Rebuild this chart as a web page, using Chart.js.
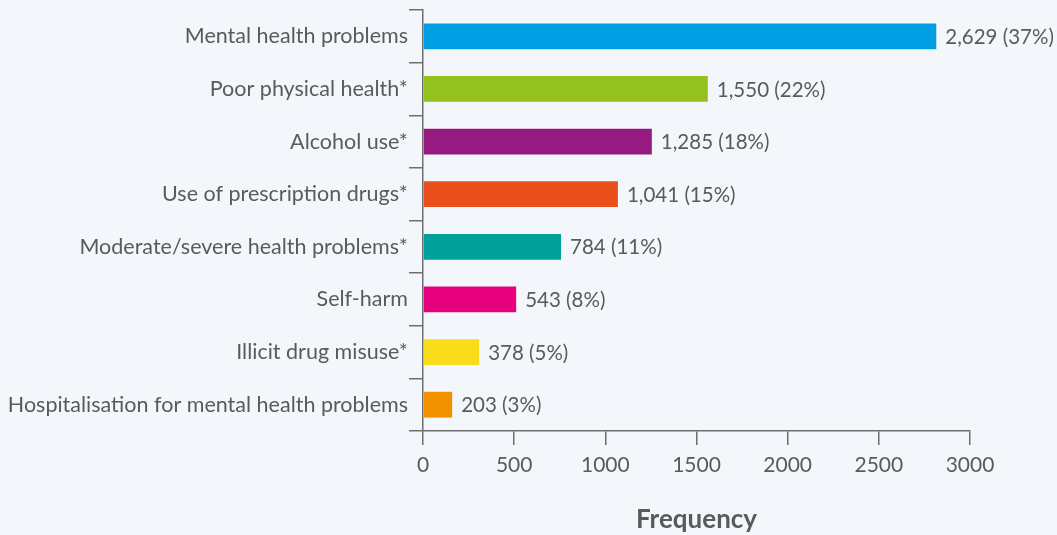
<!DOCTYPE html>
<html>
<head>
<meta charset="utf-8">
<script src="https://cdn.jsdelivr.net/npm/chart.js@4.4.1/dist/chart.umd.min.js"></script>
<style>
    html, body { margin: 0; padding: 0; background: #f3f7fb; }
    #wrap { width: 1057px; height: 535px; }
</style>
</head>
<body>
<div id="wrap"><canvas id="chart" width="1057" height="535"></canvas></div>
<script>
const categories = [
    'Mental health problems',
    'Poor physical health*',
    'Alcohol use*',
    'Use of prescription drugs*',
    'Moderate/severe health problems*',
    'Self-harm',
    'Illicit drug misuse*',
    'Hospitalisation for mental health problems'
];
// bar lengths as drawn in the picture
const barValues = [2815, 1562, 1255, 1069, 757, 511, 308, 160];
const valueLabels = ['2,629 (37%)', '1,550 (22%)', '1,285 (18%)', '1,041 (15%)', '784 (11%)', '543 (8%)', '378 (5%)', '203 (3%)'];
const barColors = ['#009fe3', '#95c11f', '#951b81', '#e94e1b', '#00a19a', '#e6007e', '#f9dc1a', '#f39200'];
const xTicks = [0, 500, 1000, 1500, 2000, 2500, 3000];

const textColor = '#5a5a5a';
const axisColor = '#6e6e6e';
const fontFamily = 'Lato, "Open Sans", sans-serif';

const valueLabelPlugin = {
    id: 'valueLabelPlugin',
    afterDatasetsDraw: function (chart) {
        const ctx = chart.ctx;
        const meta = chart.getDatasetMeta(0);
        ctx.save();
        ctx.font = '20.5px ' + fontFamily;
        ctx.fillStyle = textColor;
        ctx.textAlign = 'left';
        ctx.textBaseline = 'middle';
        meta.data.forEach((bar, i) => {
            ctx.fillText(valueLabels[i], bar.x + 9, bar.y + 1);
        });
        ctx.restore();
    }
};

const ctx = document.getElementById('chart').getContext('2d');
new Chart(ctx, {
    type: 'bar',
    data: {
        labels: categories,
        datasets: [{
            data: barValues,
            backgroundColor: barColors,
            borderWidth: 0,
            barPercentage: 0.7,
            categoryPercentage: 0.7
        }]
    },
    options: {
        indexAxis: 'y',
        responsive: false,
        animation: false,
        layout: { padding: { top: 10, right: 87, left: 0, bottom: 0 } },
        plugins: {
            legend: { display: false },
            tooltip: { enabled: false }
        },
        scales: {
            x: {
                type: 'linear',
                min: 0,
                max: 3000,
                afterBuildTicks: function (scale) {
                    scale.ticks = xTicks.map(v => ({ value: v }));
                },
                afterFit: function (scale) {
                    scale.height = 104;
                    scale.paddingRight = 0;
                },
                ticks: {
                    color: textColor,
                    font: { family: fontFamily, size: 21 },
                    padding: 8,
                    maxRotation: 0,
                    callback: function (v) { return String(v); }
                },
                grid: {
                    drawOnChartArea: false,
                    drawTicks: true,
                    tickLength: 14,
                    color: axisColor,
                    lineWidth: 1.5
                },
                border: { display: true, color: axisColor, width: 1.5 },
                title: {
                    display: true,
                    text: 'Frequency',
                    color: textColor,
                    font: { family: fontFamily, size: 26, weight: 'bold' },
                    padding: { top: 18, bottom: 0 }
                }
            },
            y: {
                afterFit: function (scale) {
                    scale.width = 423;
                    scale.paddingTop = 0;
                    scale.paddingBottom = 0;
                },
                ticks: {
                    color: textColor,
                    font: { family: fontFamily, size: 21.5 },
                    padding: 1
                },
                grid: {
                    drawOnChartArea: false,
                    drawTicks: true,
                    tickLength: 14,
                    color: axisColor,
                    lineWidth: 1.5
                },
                border: { display: true, color: axisColor, width: 1.5 }
            }
        }
    },
    plugins: [valueLabelPlugin]
});
</script>
</body>
</html>
